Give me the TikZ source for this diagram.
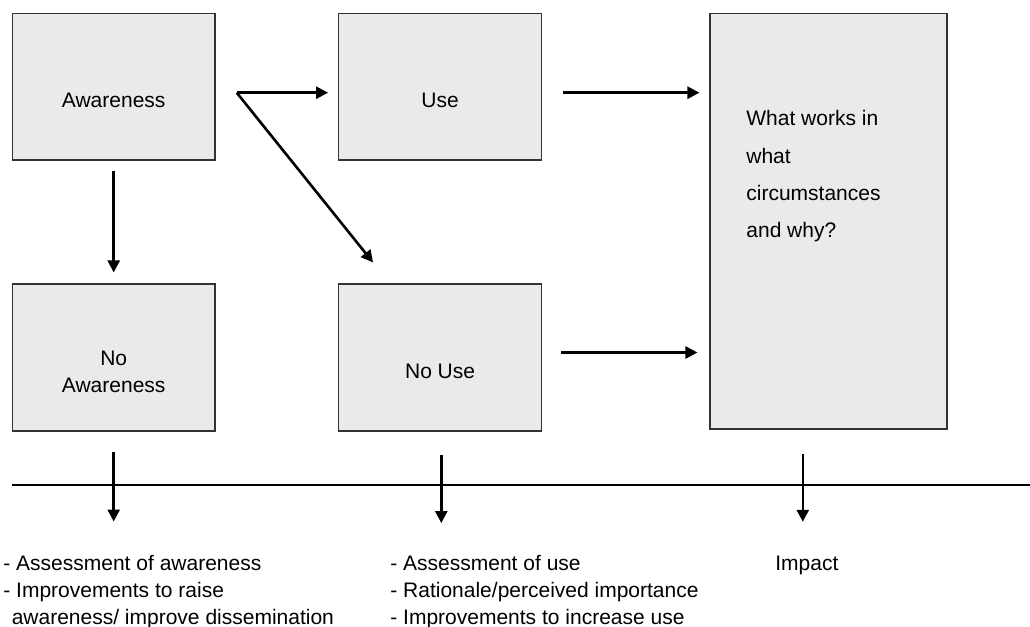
\documentclass[tikz,border=0pt]{standalone}
\usepackage{fontspec}
\setmainfont{Liberation Sans}
\usetikzlibrary{arrows.meta, positioning, calc}
\definecolor{boxgray}{RGB}{234, 234, 234}
\definecolor{edgegray}{RGB}{51, 51, 51}

\begin{document}
\begin{tikzpicture}[
    x=0.5pt, y=-0.5pt,
    stage/.style={rectangle, draw=edgegray, fill=boxgray, line width=0.7pt, minimum width=101.35pt, minimum height=73.35pt, inner sep=0pt},
    stagetext/.style={font=\fontsize{10.5}{13.5}\selectfont, align=center, yshift=-7pt},
    arr/.style={-{Triangle[length=6pt, width=6pt]}, line width=1.3pt},
    note/.style={font=\fontsize{10.5}{13.5}\selectfont, align=left, anchor=north west, inner sep=0pt}
]
\useasboundingbox (0,0) rectangle (1030,627);

% Row 1: awareness and use
\node[stage] (aw) at (113.7,86.7) {};
\node[stage, right=61.15pt of aw] (use) {};
\node[stage, right=83.65pt of use.north east, anchor=north west, minimum width=118.35pt, minimum height=207.85pt] (works) {};

% Row 2
\node[stage, below=61.35pt of aw] (noaw) {};
\node[stage, below=61.35pt of use] (nouse) {};

% Box texts
\node[stagetext] (awt) at (aw) {Awareness};
\node[stagetext] (uset) at (use) {Use};
\node[stagetext] (noawt) at (noaw) {No\\Awareness};
\node[stagetext] (nouset) at (nouse) {No Use};
\node[note, font=\fontsize{10.5}{18.7}\selectfont] (workst) at (746,110) {What works in\\what\\circumstances\\and why?};

% Arrows between boxes
\coordinate (split) at ($(aw.east)+(21,6)$);
\draw[arr, shorten >=5pt] (split) -- (split -| use.west);
\draw[arr] (split) -- ($(nouse.north west)+(35,-21)$);
\draw[arr, shorten <=5pt, shorten >=5.5pt] (aw) -- (noaw);
\draw[arr, shorten <=10.3pt, shorten >=5pt] ([yshift=-3pt]use.east) -- ([yshift=-3pt]use.east -| works.west);
\draw[arr, shorten <=9.5pt, shorten >=6pt] ([yshift=2.5pt]nouse.east) -- ([yshift=2.5pt]nouse.east -| works.west);

% Timeline
\coordinate (ruleL) at (12,485);
\coordinate (ruleR) at (1030,485);
\draw[line width=0.7pt] (ruleL) -- (ruleR);

% Outcome arrows
\draw[arr, shorten <=10.3pt] (noaw.south) -- ++(0,90);
\draw[arr, shorten <=11.8pt] ([xshift=0.6pt]nouse.south) -- ++(0,91.5);
\draw[arr, shorten <=12pt] ([xshift=-12.85pt]works.south) -- ++(0,92);

% Outcome texts
\node[note] (awnote) at (3,555) {- Assessment of awareness\\- Improvements to raise\\\hspace*{4.2pt}awareness/ improve dissemination};
\node[note] (usenote) at (390,555) {- Assessment of use\\- Rationale/perceived importance\\- Improvements to increase use};
\node[note] (impact) at (775,556) {Impact};

\end{tikzpicture}
\end{document}
